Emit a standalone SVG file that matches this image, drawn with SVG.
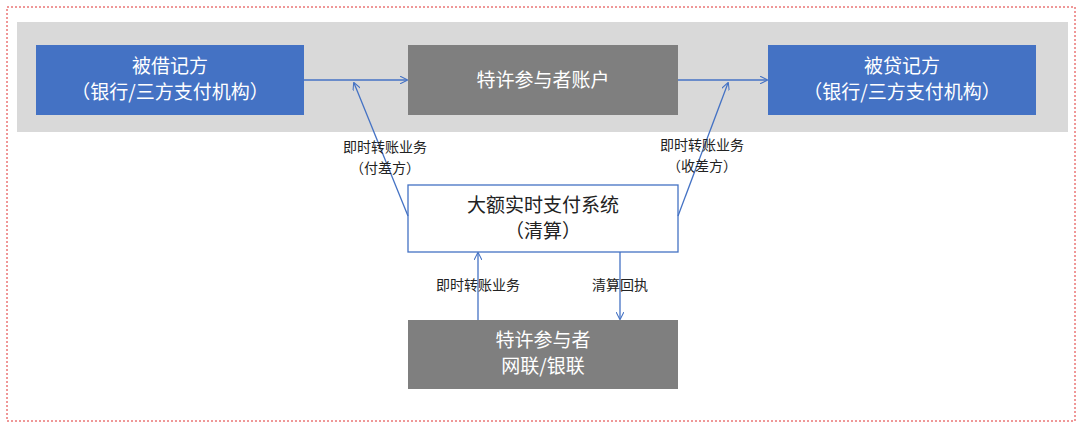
<svg xmlns="http://www.w3.org/2000/svg" width="1080" height="427" viewBox="0 0 1080 427">
<style>
text{font-family:"Noto Sans CJK SC","Noto Sans",sans-serif;text-anchor:middle}
.w{fill:#fff;font-size:19px}
.k{fill:#222;font-size:19px}
.l{fill:#222;font-size:14px}
.c{stroke:#4472c4;stroke-width:1.3;fill:none;marker-end:url(#a)}
</style>
<defs><marker id="a" viewBox="0 0 10 10" refX="9" refY="5" markerWidth="8" markerHeight="8" orient="auto" markerUnits="userSpaceOnUse"><path d="M0,0L10,5L0,10" fill="none" stroke="#4472c4" stroke-width="1.3"/></marker></defs>
<rect x="7" y="7" width="1068" height="414" fill="#fff" stroke="#e03030" stroke-dasharray="2,2"/>
<rect x="17" y="22" width="1051" height="110" fill="#d9d9d9"/>
<g id="n1"><rect x="36" y="45" width="268" height="70" fill="#4472c4"/><text class="w" x="170" y="73">被借记方</text><text class="w" x="170" y="99">（银行/三方支付机构）</text></g>
<g id="n2"><rect x="408" y="45" width="270" height="70" fill="#7f7f7f"/><text class="w" x="543" y="87">特许参与者账户</text></g>
<g id="n3"><rect x="768" y="45" width="268" height="70" fill="#4472c4"/><text class="w" x="902" y="73">被贷记方</text><text class="w" x="902" y="99">（银行/三方支付机构）</text></g>
<g id="n4"><rect x="408" y="185" width="270" height="67" fill="#fff" stroke="#4472c4" stroke-width="1.3"/><text class="k" x="543" y="212">大额实时支付系统</text><text class="k" x="543" y="238">（清算）</text></g>
<g id="n5"><rect x="408" y="320" width="270" height="69" fill="#7f7f7f"/><text class="w" x="543" y="347">特许参与者</text><text class="w" x="543" y="373">网联/银联</text></g>
<g id="edges">
<line class="c" x1="304" y1="80" x2="407" y2="80"/>
<line class="c" x1="678" y1="80" x2="767" y2="80"/>
<line class="c" x1="408" y1="216" x2="354" y2="83"/>
<line class="c" x1="678" y1="216" x2="728" y2="83"/>
<line class="c" x1="478" y1="320" x2="478" y2="253"/>
<line class="c" x1="620" y1="252" x2="620" y2="319"/>
</g>
<text class="l" x="385" y="152">即时转账业务</text><text class="l" x="385" y="173">（付差方）</text>
<text class="l" x="702" y="150">即时转账业务</text><text class="l" x="702" y="171">（收差方）</text>
<text class="l" x="478" y="290">即时转账业务</text>
<text class="l" x="620" y="290">清算回执</text>
</svg>
